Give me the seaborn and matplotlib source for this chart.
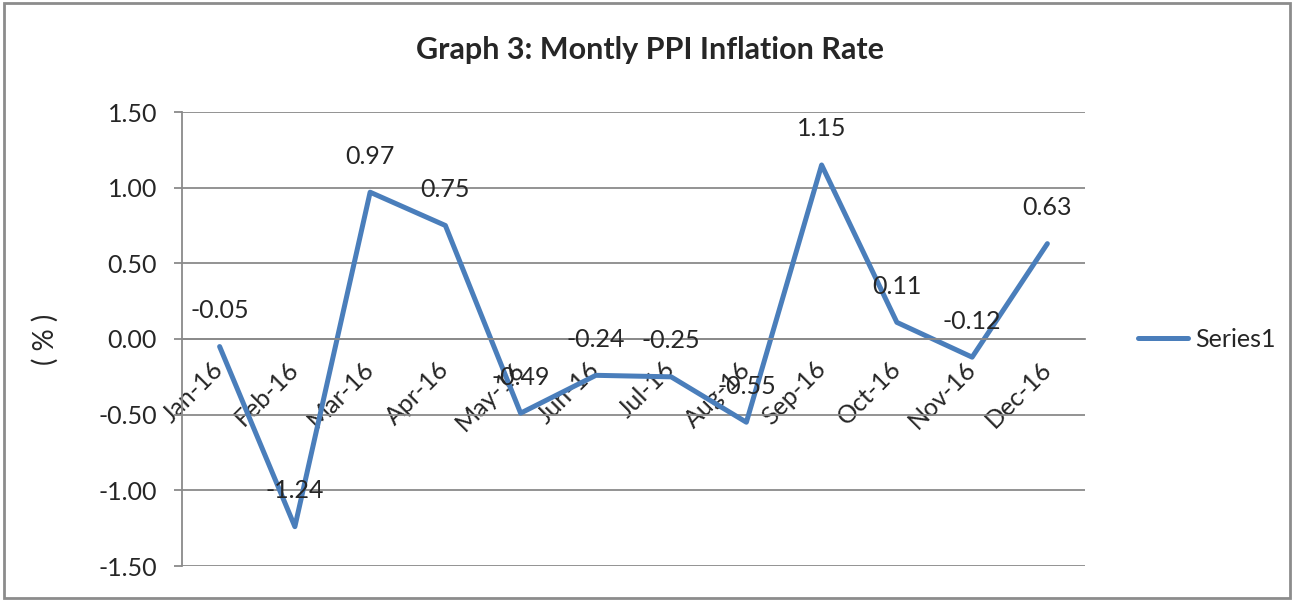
import matplotlib
matplotlib.use("Agg")
import matplotlib.pyplot as plt
import seaborn as sns
import pandas as pd
from matplotlib.patches import Rectangle
from matplotlib.ticker import FixedLocator
from matplotlib.transforms import ScaledTranslation

# data
months = ["Jan-16", "Feb-16", "Mar-16", "Apr-16", "May-16", "Jun-16",
          "Jul-16", "Aug-16", "Sep-16", "Oct-16", "Nov-16", "Dec-16"]
ppi = [-0.05, -1.24, 0.97, 0.75, -0.49, -0.24, -0.25, -0.55, 1.15, 0.11, -0.12, 0.63]
yticks = [-1.5, -1.0, -0.5, 0.0, 0.5, 1.0, 1.5]

title = "Graph 3: Montly PPI Inflation Rate"
series_name = "Series1"

sns.set_style("white")
plt.rcParams["font.family"] = ["Lato", "DejaVu Sans"]

df = pd.DataFrame({"Month": months, "PPI": ppi})

fig = plt.figure(figsize=(12.96, 6.01), dpi=100)
ax = fig.add_axes([182 / 1296, 1 - 566 / 601, 903 / 1296, 454 / 601])

blue = "#4a7ebb"
grid_c = "#8a8a8a"

sns.lineplot(data=df, x="Month", y="PPI", ax=ax, color=blue, linewidth=3.6,
             sort=False, label=series_name, legend=False)

ax.set_xlim(-0.5, len(months) - 0.5)
ax.set_ylim(-1.5, 1.5)
ax.set_yticks(yticks)
ax.set_yticklabels([f"{t:.2f}" for t in yticks], fontsize=18)
ax.yaxis.grid(True, color=grid_c, linewidth=1.3)
ax.set_axisbelow(True)

# category axis crosses at zero, Excel style
for s in ["top", "right"]:
    ax.spines[s].set_visible(False)
ax.spines["bottom"].set_position(("data", 0))
ax.spines["bottom"].set_color(grid_c)
ax.spines["bottom"].set_linewidth(1.3)
ax.spines["left"].set_color(grid_c)
ax.spines["left"].set_linewidth(1.3)

ax.set_xticks(range(len(months)))
ax.set_xticklabels(months, fontsize=18, rotation=45, ha="right", va="center",
                   rotation_mode="anchor")
shift = ScaledTranslation(6 / 100, 0, fig.dpi_scale_trans)
for lbl in ax.get_xticklabels():
    lbl.set_transform(lbl.get_transform() + shift)
ax.xaxis.set_minor_locator(FixedLocator([i - 0.5 for i in range(len(months) + 1)]))
ax.tick_params(axis="x", which="major", length=0, pad=19)
ax.tick_params(axis="x", which="minor", length=6, direction="out", color=grid_c, width=1.3)
ax.tick_params(axis="y", length=6, direction="out", color=grid_c, width=1.3, pad=12, left=True)
ax.set_xlabel("")

ax.set_ylabel("( % )", fontsize=20)
ax.yaxis.set_label_coords(-0.137, 0.5)

for i, v in enumerate(ppi):
    ax.annotate(f"{v:.2f}", (i, v), xytext=(0, 26), textcoords="offset points",
                ha="center", va="center", fontsize=18)

fig.suptitle(title, x=650 / 1296, y=1 - 50 / 601, va="center", fontsize=22,
             fontweight="bold")

handles, labels = ax.get_legend_handles_labels()
fig.legend(handles, labels, loc="center left", bbox_to_anchor=(1125 / 1296, 1 - 339 / 601),
           frameon=False, fontsize=18, handlelength=2.0, handletextpad=0.3, borderpad=0)

fig.patches.append(Rectangle((4 / 1296, 3 / 601), 1286 / 1296, 595 / 601, fill=False,
                             edgecolor="#8c8c8c", linewidth=2, transform=fig.transFigure))

fig.savefig("out.png", dpi=100)
